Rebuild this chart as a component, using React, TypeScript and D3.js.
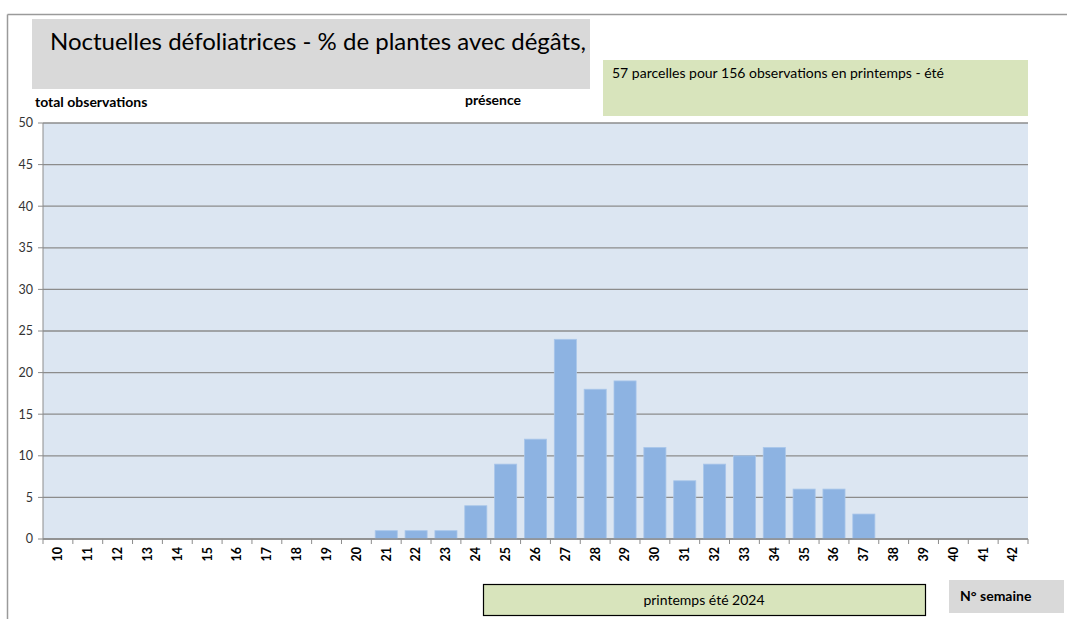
import * as d3 from "d3";

const weeks = d3.range(10, 43).map(String);
const presence = [0, 0, 0, 0, 0, 0, 0, 0, 0, 0, 0, 1, 1, 1, 4, 9, 12, 24, 18, 19, 11, 7, 9, 10, 11, 6, 6, 3, 0, 0, 0, 0, 0];
const yTicks = [0, 5, 10, 15, 20, 25, 30, 35, 40, 45, 50];

const title = "Noctuelles défoliatrices - % de plantes avec dégâts,";
const note = "57 parcelles pour 156 observations en printemps - été";
const seasonLabel = "printemps été 2024";

const W = 1067;
const H = 619;
const font = "Lato, 'Open Sans', sans-serif";

export default function App() {
  const plot = { left: 43, right: 1028, top: 123, bottom: 539 };

  const x = d3.scaleBand().domain(weeks).range([plot.left, plot.right]).paddingInner(0.26).paddingOuter(0.13);
  const y = d3.scaleLinear().domain([0, 50]).range([plot.bottom, plot.top]);
  const step = (plot.right - plot.left) / weeks.length;

  return (
    <svg width={W} height={H} style={{ position: "absolute", left: 0, top: 0, fontFamily: font }}>
      <rect width={W} height={H} fill="#fff" />
      {/* outer frame */}
      <line x1={7.5} y1={14.5} x2={W} y2={14.5} stroke="#9a9a9a" strokeWidth={1.5} />
      <line x1={7.5} y1={14.5} x2={7.5} y2={H} stroke="#9a9a9a" strokeWidth={1.5} />

      {/* title box */}
      <rect x={32} y={19} width={558} height={70} fill="#d9d9d9" />
      <text x={318} y={50} textAnchor="middle" fontSize={24} fill="#000">{title}</text>

      {/* note box */}
      <rect x={603} y={60} width={425} height={56} fill="#d8e4bc" />
      <text x={612} y={78} fontSize={14} fill="#000">{note}</text>

      <text x={35} y={107} fontSize={14} fontWeight="bold">total observations</text>
      <text x={465} y={105} fontSize={14} fontWeight="bold">présence</text>

      {/* plot area */}
      <rect x={plot.left} y={plot.top} width={plot.right - plot.left} height={plot.bottom - plot.top} fill="#dce6f2" />
      {yTicks.map((t) => (
        <g key={t}>
          <line x1={plot.left} x2={plot.right} y1={y(t)} y2={y(t)} stroke="#8c8c8c" strokeWidth={1.3} />
          <line x1={38} x2={plot.left} y1={y(t)} y2={y(t)} stroke="#8c8c8c" strokeWidth={1} />
          <text x={33} y={y(t)} dy="0.35em" textAnchor="end" fontSize={12.5} fill="#333">{t}</text>
        </g>
      ))}
      <line x1={plot.left} x2={plot.left} y1={plot.top} y2={plot.bottom} stroke="#8c8c8c" strokeWidth={1} />

      {weeks.map((w, i) => (
        presence[i] > 0 ? (
          <rect key={w} x={x(w)} y={y(presence[i])} width={x.bandwidth()} height={y(0) - y(presence[i])}
            fill="#8db3e2" stroke="#a9c6ea" strokeWidth={0.8} />
        ) : null
      ))}

      {/* x axis */}
      <line x1={plot.left} x2={plot.right} y1={plot.bottom} y2={plot.bottom} stroke="#8c8c8c" strokeWidth={1.3} />
      {d3.range(weeks.length + 1).map((i) => (
        <line key={i} x1={plot.left + i * step} x2={plot.left + i * step} y1={plot.bottom} y2={plot.bottom + 5}
          stroke="#8c8c8c" strokeWidth={1} />
      ))}
      {weeks.map((w) => {
        const cx = (x(w) ?? 0) + x.bandwidth() / 2;
        return (
          <text key={w} transform={`translate(${cx},547) rotate(-90)`} textAnchor="end" dy="0.35em"
            fontSize={12.5} fontWeight="bold" fill="#000">{w}</text>
        );
      })}

      {/* season box */}
      <rect x={483.5} y={584.5} width={442} height={31} fill="#d8e4bc" stroke="#000" strokeWidth={1.2} />
      <text x={704} y={600} dy="0.35em" textAnchor="middle" fontSize={14}>{seasonLabel}</text>

      <rect x={949} y={580} width={115} height={33} fill="#d9d9d9" />
      <text x={960} y={596} dy="0.35em" fontSize={14} fontWeight="bold">N° semaine</text>
    </svg>
  );
}
